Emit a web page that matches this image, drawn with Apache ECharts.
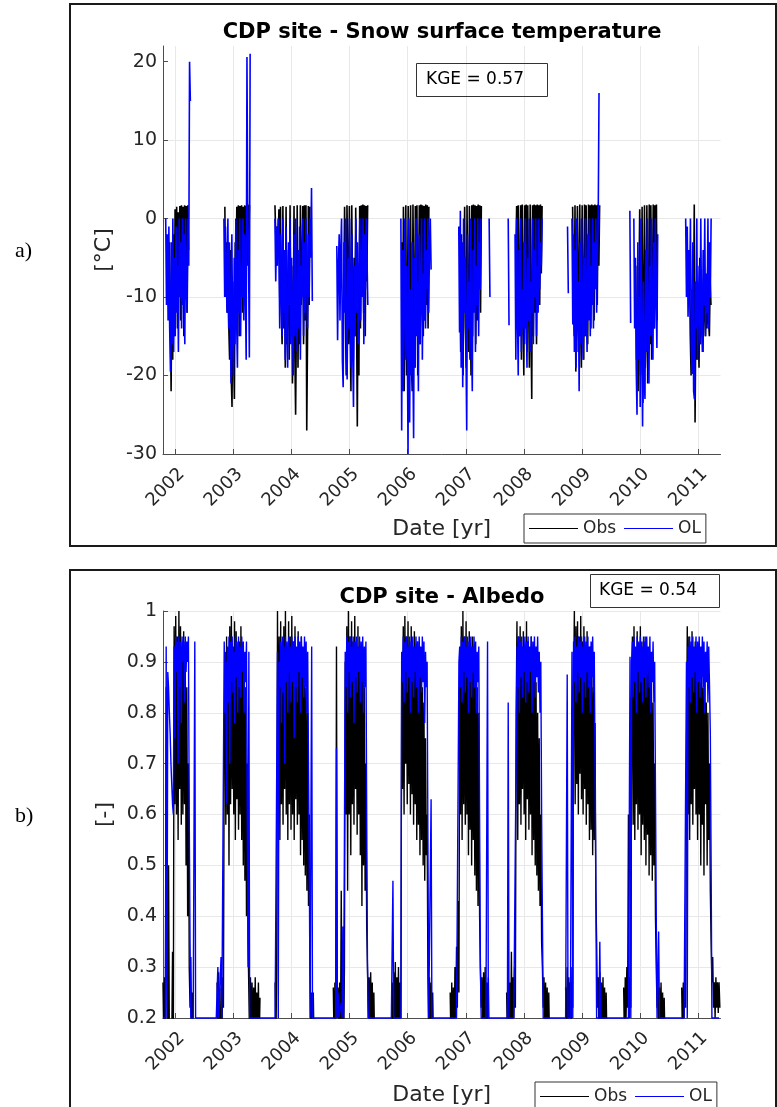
<!DOCTYPE html>
<html>
<head>
<meta charset="utf-8">
<title>CDP site</title>
<script src="https://cdn.jsdelivr.net/npm/echarts@6/dist/echarts.min.js"></script>
<style>
  html, body { margin: 0; padding: 0; background: #fff; }
  #chart { width: 777px; height: 1107px; }
</style>
</head>
<body>
<div id="chart"></div>
<script>
// ---- data (5-day steps inside each season) ----
const STEP_DAYS = 5;
const yearLabels = [2002, 2003, 2004, 2005, 2006, 2007, 2008, 2009, 2010, 2011];
const tempTicks = [-30, -20, -10, 0, 10, 20];

// snow surface temperature, observations
const tempObsStart = ['2001-11-25', '2002-11-08', '2003-09-19', '2004-11-25', '2005-11-25',
  '2006-11-25', '2007-11-12', '2008-11-03', '2009-12-05', '2010-11-08'];
const tempObs = [
  [-3, -12, -22, -6, -18, -2, -15, 1.2, -10, 1.5, -14, 0.8, -8, 1.6, -13, 1.7, -6, 1.5, -15, 1.7, -5, 1.6, -12, 1.7, -4],
  [1.5, -10, -3, -12, -6, -14, -18, -4, -20, -24, -8, -17, -23, -3, -12, 1.5, -10, 1.7, -15, 1.6, -8, 1.7, -12, 1.5, -5, 1.7, -11, 1.6, -6, 1.8, -4, 1.7],
  [1.7, -2, -6, -1, -3, 1.2, -10, 1.5, -12, -16, 1.6, -14, -5, -19, 1.5, -16, -12, -4, -18, 1.7, -15, -6, -21, -14, 1.6, -17, -25, -13, 1.7, -19, -5, -16, 1.7, -11, -7, 1.6, -16, 1.7, -13, 1.7, -27, -15, 1.6, -11, 1.5],
  [-8, 1.5, -12, -20, 1.7, -6, -16, 1.6, -14, -22, 1.7, -9, -18, -5, -15, 1.4, -12, -26.5, -8, -20, 1.6, -14, 1.7, -10, 1.8, -12, 1.7, -15, 1.6, -8, 1.7],
  [-3, -17, 1.5, -22, -8, 1.7, -20, -12, 1.6, -21, -5, 1.7, -18, -22, 1.8, -10, -19, 1.6, -14, 1.7, -20, -8, 1.7, -16, 1.8, -12, 1.7, -15, 1.6, -10, 1.8, -11, 1.7, -14, 1.5],
  [-8, -17, -2, -15, -20, -6, 1.5, -14, -19, 1.7, -12, -17, 1.6, -10, -20, 1.7, -15, 1.8, -11, 1.7, -16, 1.6, -13, 1.8, -9, 1.7, -12, 1.6],
  [-5, 1.6, -12, 1.7, -15, -8, 1.7, -18, 1.8, -11, -20, 1.7, -14, 1.8, -17, 1.7, -10, -19, 1.8, -13, -23, 1.7, -15, 1.8, -12, 1.7, -16, 1.8, -9, 1.7, -11, 1.8, -7, 1.6],
  [1.5, -9, -15, 1.7, -19.5, -12, 1.6, -17, -8, 1.8, -14, -19, 1.7, -11, -18, 1.8, -15, 1.7, -12, -16, 1.8, -10, 1.7, -14, 1.8, -9, 1.7, -13, 1.8, -8, 1.7, -11, 1.8, -6, 1.7],
  [-6, -18, -12, -22, -8, 1.2, -20, -15, 1.5, -23.5, -10, 1.7, -19, -14, 1.7, -21, -12, 1.8, -16, 1.7, -18, -9, 1.8, -14, 1.7, -11, 1.8, -13],
  [-6, -15, -20, -9, -17, -12, 1.8, -26, -12, -18, -8, -14, -19, -5, -16, -10, -13, -17, -4, -12, -15, -9, -14, -6, -13, -15, -8, -11]
];

// snow surface temperature, open loop run
const tempOlStart = ['2001-11-01', '2002-11-02', '2003-09-19', '2004-10-12', '2005-11-19', '2006-11-18',
  '2007-05-28', '2007-09-25', '2007-11-07', '2008-10-02', '2008-10-30', '2009-10-29', '2009-11-23', '2010-10-15'];
const tempOl = [
  [0, -11, -2, -13, -1, -14, -19.5, -3, -16, 0, -17, -5, -15, -1, -12, -6, -17, 0, -10, -3, -14, 0, -11, -2, -16, 0, -9, -12, 0, -6, 20, 15],
  [0, -10, -1, -8, -12, 0, -14, -3, -11, -21, -2, -15, -20, -5, -16, 0, -13, -19, -4, -12, 0, -15, -6, -10, 0, -13, -2, -9, -18, 20.6, 0, -5, -17.7, 21],
  [0, -8, -1, -6, 0, -3, -14, -2, -9, -15, 0, -12, -4, -18, -1, -14, -19, -3, -11, 0, -16, -5, -13, -20, -2, -15, 0, -12, -17, -4, -14, -1, -18, -6, -10, 0, -15, -3, -12, 0, -8, -14, -2, -10, 0, -5, 3.9, -10.5],
  [-3.5, -15.5, -6, -2, -13, -4, 0, -18, -21.5, -3, -12, 0, -16, -20.5, -5, -14, 0, -11, -19, -2, -17, -24, -6, -15, 0, -12, -3, -16, -8, 0, -13, -4, -10, 0, -16, -2, -9, 0, -5, -11],
  [0, -27, -4, -22, -10, 0, -18, -6, -14, -30, 0, -26, -9, -20, -3, -17, -28, -5, -19, 0, -15, -8, -22, -2, -16, -10, 0, -18, -7, -13, 0, -14, -4, -9, 0, -12, -3, 0, -6.5],
  [-1, -14.5, 1, -19, -3, -21.5, 0, -12, -5, -16, -27, -2, -14, -8, -18, 0, -15, -22, -4, -12, 0, -17, -6, -11, 0, -15, -3, -9, 0],
  [0, -10],
  [0, -13.6],
  [-2, -18, 0, -12, -20, -4, -15, 0, -17, -9, -14, -3, -16, 0, -11, -19, -5, -13, 0, -17, -8, -12, 0, -16, -4, -10, 0, -15, -6, -12, 0, -9, -3, -6, 0],
  [-1, -9.5],
  [0, -13.5, -2, -17, -4, -19, 0, -14, -8, -22, -3, -16, 0, -12, -18, -5, -15, 0, -11, -17, -2, -13, 0, -15, -6, -11, 0, -14, -3, -9, 0, -12, -5, 0, 16],
  [1, -13.3],
  [0, -14, -5, -19, -25, -3, -18, -10, -24, 0, -16, -26.5, -8, -20, -23, -4, -17, 0, -13, -21, -6, -15, 0, -12, -18, -3, -14, 0, -10, -16.5, -2],
  [0, -10, -1, -12.5, -4, -9, 0, -16, -19.8, -3, -22, -23, -8, -14, 0, -18, -11, -6, -16, 0, -13, -17, -4, -11, 0, -15, -7, -12, 0, -14, -3, -10, 0]
];

// albedo, observations (values under 0.2 fall below the axis)
const albObsStart = ['2001-10-15', '2002-09-20', '2003-09-20', '2004-09-20', '2005-09-20',
  '2006-09-25', '2007-09-15', '2008-09-20', '2009-09-20', '2010-09-20'];
const albObs = [
  [0.27, 0.15, 0.28, 0.15, 0.85, 0.48, 0.15, 0.5, 0.15, 0.15, 0.15, 0.15, 0.33, 0.15, 0.97, 0.62, 0.99, 0.6, 0.95, 0.55, 1.0, 0.65, 0.97, 0.58, 0.93, 0.6, 0.96, 0.62, 0.9, 0.5, 0.85, 0.4, 0.7, 0.3, 0.22, 0.32, 0.15, 0.25, 0.15],
  [0.27, 0.15, 0.29, 0.2, 0.15, 0.26, 0.15, 0.28, 0.22, 0.75, 0.92, 0.58, 0.95, 0.6, 0.88, 0.5, 0.97, 0.62, 0.99, 0.65, 0.93, 0.6, 0.98, 0.55, 0.96, 0.63, 0.9, 0.57, 0.94, 0.6, 0.97, 0.55, 0.9, 0.5, 0.88, 0.47, 0.85, 0.4, 0.7, 0.35, 0.25, 0.15, 0.28, 0.15, 0.27, 0.15, 0.26, 0.15, 0.28, 0.15, 0.25, 0.15, 0.27, 0.15, 0.24],
  [0.27, 0.15, 0.3, 1.0, 0.6, 0.95, 0.55, 0.98, 0.62, 0.93, 0.58, 0.97, 0.65, 1.0, 0.6, 0.92, 0.55, 0.98, 0.62, 0.95, 0.57, 0.99, 0.6, 0.94, 0.55, 0.97, 0.63, 0.92, 0.58, 0.96, 0.6, 0.9, 0.52, 0.95, 0.55, 0.9, 0.5, 0.88, 0.48, 0.85, 0.45, 0.8, 0.42, 0.6, 0.3, 0.15, 0.25, 0.15, 0.25, 0.15],
  [0.26, 0.15, 0.27, 0.15, 0.93, 0.2, 0.26, 0.15, 0.27, 0.15, 0.45, 0.15, 0.26, 0.15, 0.3, 0.9, 0.6, 0.97, 0.45, 1.0, 0.6, 0.95, 0.52, 0.98, 0.62, 0.94, 0.58, 0.99, 0.65, 0.92, 0.56, 0.97, 0.6, 0.93, 0.52, 0.9, 0.42, 0.88, 0.5, 0.85, 0.45, 0.7, 0.38, 0.3, 0.2, 0.28, 0.15, 0.29, 0.15, 0.27, 0.15, 0.25, 0.15],
  [0.15, 0.27, 0.15, 0.29, 0.15, 0.31, 0.15, 0.28, 0.2, 0.3, 0.15, 0.27, 0.2, 0.88, 0.65, 0.97, 0.6, 0.99, 0.7, 0.95, 0.62, 0.98, 0.66, 0.93, 0.6, 0.97, 0.64, 0.92, 0.58, 0.96, 0.62, 0.9, 0.55, 0.94, 0.58, 0.88, 0.52, 0.91, 0.55, 0.85, 0.5, 0.82, 0.47, 0.75, 0.52, 0.6, 0.28, 0.15, 0.28, 0.15, 0.27, 0.15, 0.25, 0.15],
  [0.25, 0.15, 0.27, 0.15, 0.26, 0.15, 0.3, 0.2, 0.34, 0.22, 0.43, 0.25, 0.9, 0.6, 0.97, 0.55, 1.0, 0.62, 0.95, 0.58, 0.98, 0.6, 0.93, 0.52, 0.96, 0.57, 0.92, 0.5, 0.95, 0.55, 0.88, 0.48, 0.9, 0.45, 0.85, 0.42, 0.8, 0.4, 0.3, 0.22, 0.28, 0.15, 0.29, 0.15, 0.3, 0.15, 0.27, 0.15, 0.28, 0.15],
  [0.25, 0.15, 0.3, 0.15, 0.27, 0.15, 0.33, 0.15, 0.28, 0.2, 0.3, 0.22, 0.8, 0.98, 0.55, 0.95, 0.62, 0.97, 0.58, 0.93, 0.65, 0.96, 0.6, 0.92, 0.55, 0.98, 0.63, 0.94, 0.57, 0.9, 0.6, 0.95, 0.52, 0.91, 0.55, 0.88, 0.5, 0.86, 0.48, 0.8, 0.45, 0.75, 0.42, 0.6, 0.35, 0.3, 0.22, 0.28, 0.15, 0.27, 0.15, 0.26, 0.15, 0.25, 0.15],
  [0.26, 0.15, 0.3, 0.15, 0.28, 0.2, 0.27, 0.15, 0.3, 0.22, 0.85, 1.0, 0.62, 0.97, 0.66, 0.98, 0.6, 0.95, 0.68, 0.99, 0.63, 0.94, 0.6, 0.97, 0.65, 0.92, 0.58, 0.96, 0.62, 0.9, 0.55, 0.93, 0.57, 0.88, 0.52, 0.85, 0.55, 0.78, 0.45, 0.35, 0.22, 0.28, 0.15, 0.29, 0.15, 0.27, 0.15, 0.28, 0.15, 0.26, 0.15, 0.25, 0.15],
  [0.26, 0.15, 0.28, 0.2, 0.3, 0.22, 0.6, 0.2, 0.28, 0.22, 0.75, 0.95, 0.58, 0.97, 0.55, 0.92, 0.62, 0.96, 0.57, 0.93, 0.6, 0.97, 0.52, 0.94, 0.58, 0.9, 0.55, 0.95, 0.5, 0.91, 0.56, 0.88, 0.48, 0.9, 0.52, 0.86, 0.47, 0.82, 0.5, 0.7, 0.4, 0.3, 0.22, 0.27, 0.15, 0.26, 0.15, 0.27, 0.15, 0.25, 0.15, 0.24, 0.15],
  [0.26, 0.15, 0.27, 0.2, 0.3, 0.22, 0.7, 0.97, 0.6, 0.95, 0.55, 0.93, 0.62, 0.96, 0.58, 0.9, 0.65, 0.94, 0.6, 0.88, 0.55, 0.92, 0.6, 0.86, 0.5, 0.9, 0.58, 0.85, 0.48, 0.88, 0.62, 0.82, 0.5, 0.8, 0.55, 0.7, 0.45, 0.35, 0.27, 0.32, 0.22, 0.27, 0.2, 0.28, 0.22, 0.27, 0.21, 0.27, 0.22]
];

// albedo, open loop run (0.2 = snow-free ground, drawn along the axis)
const albOlStart = ['2001-10-15', '2002-09-15', '2003-09-20', '2004-09-20', '2005-09-20',
  '2006-09-20', '2007-09-20', '2008-09-20', '2009-09-20', '2010-09-20'];
const albOl = [
  [0.2, 0.2, 0.2, 0.2, 0.93, 0.2, 0.88, 0.85, 0.8, 0.76, 0.7, 0.66, 0.62, 0.6, 0.93, 0.75, 0.95, 0.88, 0.94, 0.7, 0.95, 0.85, 0.94, 0.78, 0.95, 0.9, 0.94, 0.82, 0.95, 0.88, 0.94, 0.9, 0.95, 0.6, 0.35, 0.2, 0.2, 0.2, 0.2, 0.2, 0.94, 0.2],
  [0.2, 0.2, 0.3, 0.2, 0.2, 0.2, 0.32, 0.2, 0.2, 0.2, 0.94, 0.8, 0.9, 0.62, 0.93, 0.82, 0.95, 0.7, 0.94, 0.86, 0.95, 0.84, 0.92, 0.78, 0.95, 0.87, 0.94, 0.8, 0.95, 0.85, 0.93, 0.83, 0.95, 0.88, 0.94, 0.8, 0.92, 0.86, 0.94, 0.6, 0.3, 0.92, 0.2, 0.2],
  [0.2, 0.2, 0.2, 0.92, 0.2, 0.9, 0.85, 0.94, 0.78, 0.95, 0.84, 0.93, 0.7, 0.95, 0.86, 0.94, 0.8, 0.95, 0.88, 0.93, 0.82, 0.95, 0.86, 0.94, 0.75, 0.95, 0.85, 0.93, 0.82, 0.95, 0.88, 0.94, 0.8, 0.95, 0.87, 0.93, 0.83, 0.95, 0.85, 0.94, 0.8, 0.92, 0.7, 0.5, 0.2, 0.2, 0.93, 0.2],
  [0.2, 0.2, 0.2, 0.2, 0.73, 0.2, 0.25, 0.2, 0.2, 0.2, 0.23, 0.2, 0.38, 0.2, 0.2, 0.92, 0.85, 0.95, 0.8, 0.94, 0.88, 0.95, 0.83, 0.93, 0.86, 0.95, 0.78, 0.94, 0.87, 0.95, 0.84, 0.93, 0.88, 0.95, 0.82, 0.94, 0.86, 0.95, 0.8, 0.93, 0.85, 0.94, 0.6, 0.3, 0.2],
  [0.2, 0.2, 0.47, 0.2, 0.2, 0.2, 0.2, 0.2, 0.2, 0.2, 0.2, 0.2, 0.2, 0.92, 0.86, 0.95, 0.82, 0.94, 0.88, 0.95, 0.84, 0.93, 0.87, 0.95, 0.8, 0.94, 0.86, 0.95, 0.83, 0.93, 0.88, 0.95, 0.85, 0.94, 0.8, 0.95, 0.87, 0.93, 0.84, 0.95, 0.86, 0.94, 0.78, 0.92, 0.85, 0.9, 0.55, 0.2, 0.2, 0.2, 0.63, 0.2],
  [0.2, 0.2, 0.2, 0.2, 0.2, 0.2, 0.2, 0.2, 0.2, 0.2, 0.2, 0.2, 0.9, 0.93, 0.85, 0.95, 0.82, 0.94, 0.88, 0.95, 0.84, 0.93, 0.87, 0.95, 0.8, 0.94, 0.86, 0.95, 0.83, 0.93, 0.88, 0.95, 0.85, 0.94, 0.8, 0.92, 0.86, 0.93, 0.6, 0.3, 0.2, 0.2, 0.2, 0.2, 0.2, 0.2, 0.2, 0.2, 0.94, 0.2],
  [0.2, 0.82, 0.2, 0.2, 0.2, 0.2, 0.2, 0.2, 0.2, 0.2, 0.2, 0.72, 0.93, 0.85, 0.95, 0.8, 0.94, 0.87, 0.95, 0.83, 0.93, 0.88, 0.95, 0.82, 0.94, 0.86, 0.95, 0.84, 0.93, 0.88, 0.95, 0.8, 0.94, 0.86, 0.95, 0.83, 0.93, 0.87, 0.95, 0.84, 0.92, 0.8, 0.9, 0.6, 0.4, 0.2],
  [0.2, 0.2, 0.875, 0.2, 0.2, 0.2, 0.2, 0.2, 0.92, 0.2, 0.94, 0.86, 0.95, 0.82, 0.93, 0.88, 0.95, 0.84, 0.94, 0.87, 0.95, 0.8, 0.93, 0.86, 0.95, 0.83, 0.94, 0.88, 0.95, 0.85, 0.93, 0.8, 0.94, 0.87, 0.95, 0.84, 0.92, 0.7, 0.45, 0.2, 0.2, 0.2, 0.2, 0.35, 0.2],
  [0.2, 0.2, 0.2, 0.2, 0.2, 0.2, 0.2, 0.2, 0.91, 0.2, 0.9, 0.94, 0.83, 0.95, 0.86, 0.93, 0.8, 0.95, 0.88, 0.94, 0.84, 0.95, 0.86, 0.93, 0.82, 0.95, 0.87, 0.94, 0.83, 0.95, 0.88, 0.93, 0.85, 0.95, 0.8, 0.92, 0.86, 0.94, 0.82, 0.9, 0.65, 0.4, 0.2, 0.2, 0.37, 0.2],
  [0.2, 0.2, 0.2, 0.2, 0.2, 0.2, 0.9, 0.2, 0.93, 0.85, 0.95, 0.82, 0.94, 0.87, 0.95, 0.84, 0.93, 0.88, 0.95, 0.8, 0.94, 0.86, 0.95, 0.83, 0.93, 0.87, 0.95, 0.85, 0.94, 0.8, 0.92, 0.86, 0.94, 0.82, 0.93, 0.85, 0.76, 0.5, 0.2, 0.2, 0.2, 0.2, 0.2, 0.2, 0.2, 0.2, 0.2, 0.2]
];

// ---- helpers ----
const DAY = 86400000;
const axisStart = Date.UTC(2001, 9, 15);
const axisEnd = Date.UTC(2011, 4, 22);
const yearTicks = yearLabels.map(y => Date.UTC(y, 0, 1));

// turn season arrays into [time, value] pairs; a null closes each season when gaps are wanted
function seasonPoints(starts, seasons, gaps) {
  const out = [];
  seasons.forEach((vals, k) => {
    const t0 = Date.parse(starts[k] + 'T00:00:00Z');
    vals.forEach((v, i) => out.push([t0 + i * STEP_DAYS * DAY, v]));
    if (gaps) out.push([t0 + vals.length * STEP_DAYS * DAY, null]);
  });
  return out;
}

const axisColor = '#4d4d4d';
const textColor = '#262626';
const gridColor = '#e8e8e8';

// time runs on a plain value axis (ms), with ticks on 1 January of each year
function makeXAxis(gridIndex, nameGap) {
  return {
    type: 'value',
    gridIndex: gridIndex,
    min: axisStart,
    max: axisEnd,
    axisLine: { show: true, onZero: false, lineStyle: { color: axisColor } },
    axisTick: { show: true, inside: true, length: 5, customValues: yearTicks, lineStyle: { color: axisColor } },
    axisLabel: {
      customValues: yearTicks,
      interval: 0,
      rotate: 45,
      verticalAlign: 'top',
      margin: 11,
      fontSize: 18,
      color: textColor,
      formatter: v => String(new Date(v).getUTCFullYear())
    },
    splitLine: { show: true, lineStyle: { color: gridColor } },
    name: 'Date [yr]',
    nameLocation: 'middle',
    nameGap: nameGap,
    nameTextStyle: { fontSize: 22, color: textColor }
  };
}

function lineSeries(name, xi, data, color, clip, width) {
  return {
    name: name,
    type: 'line',
    xAxisIndex: xi,
    yAxisIndex: xi,
    data: data,
    symbol: 'none',
    showSymbol: false,
    clip: clip,
    silent: true,
    animation: false,
    emphasis: { disabled: true },
    itemStyle: { color: color },
    lineStyle: { color: color, width: width, join: 'bevel' }
  };
}

const legendBase = {
  data: ['Obs', 'OL'], icon: 'rect', itemWidth: 49, itemHeight: 1, itemGap: 8,
  padding: [6, 5], borderColor: '#333', borderWidth: 1, backgroundColor: '#fff',
  selectedMode: false, textStyle: { fontSize: 17, color: textColor }
};

const chart = echarts.init(document.getElementById('chart'));

chart.setOption({
  backgroundColor: '#fff',
  animation: false,
  textStyle: { fontFamily: 'DejaVu Sans' },
  title: [
    {
      text: 'CDP site - Snow surface temperature', left: 442, top: 22, textAlign: 'center', padding: 0,
      textStyle: { fontSize: 21, fontWeight: 'bold', color: '#000', lineHeight: 22 }
    },
    {
      text: 'KGE = 0.57', left: 416, top: 63, padding: [7, 24, 7, 10],
      borderColor: '#333', borderWidth: 1,
      textStyle: { fontSize: 17, fontWeight: 'normal', color: '#000', lineHeight: 20 }
    },
    {
      text: 'CDP site - Albedo', left: 442, top: 587, textAlign: 'center', padding: 0,
      textStyle: { fontSize: 21, fontWeight: 'bold', color: '#000', lineHeight: 22 }
    },
    {
      text: 'KGE = 0.54', left: 590, top: 574, padding: [7, 23, 7, 9],
      borderColor: '#333', borderWidth: 1,
      textStyle: { fontSize: 17, fontWeight: 'normal', color: '#000', lineHeight: 20 }
    }
  ],
  legend: [
    Object.assign({}, legendBase, { left: 524, top: 514 }),
    Object.assign({}, legendBase, { left: 535, top: 1082 })
  ],
  grid: [
    { left: 163, top: 46, width: 557.5, height: 408 },
    { left: 163, top: 611, width: 557.5, height: 408.5 }
  ],
  xAxis: [makeXAxis(0, 64), makeXAxis(1, 66)],
  yAxis: [
    {
      type: 'value', gridIndex: 0, min: -30, max: 22, interval: 10,
      axisLine: { show: true, lineStyle: { color: axisColor } },
      axisTick: { show: true, inside: true, length: 5, customValues: tempTicks, lineStyle: { color: axisColor } },
      axisLabel: { customValues: tempTicks, fontSize: 19, color: textColor, margin: 6 },
      splitLine: { show: true, showMaxLine: false, lineStyle: { color: gridColor } },
      name: '[°C]', nameLocation: 'middle', nameRotate: 90, nameGap: 46,
      nameTextStyle: { fontSize: 22, color: textColor }
    },
    {
      type: 'value', gridIndex: 1, min: 0.2, max: 1, interval: 0.1,
      axisLine: { show: true, lineStyle: { color: axisColor } },
      axisTick: { show: true, inside: true, length: 5, lineStyle: { color: axisColor } },
      axisLabel: { fontSize: 19, color: textColor, margin: 6 },
      splitLine: { show: true, lineStyle: { color: gridColor } },
      name: '[-]', nameLocation: 'middle', nameRotate: 90, nameGap: 46,
      nameTextStyle: { fontSize: 22, color: textColor }
    }
  ],
  graphic: [
    { type: 'rect', silent: true, shape: { x: 70, y: 4, width: 706, height: 542 }, style: { fill: 'none', stroke: '#1a1a1a', lineWidth: 2 } },
    { type: 'rect', silent: true, shape: { x: 70, y: 570, width: 706, height: 560 }, style: { fill: 'none', stroke: '#1a1a1a', lineWidth: 2 } },
    { type: 'text', left: 15, top: 240, style: { text: 'a)', font: '22px "Liberation Serif"', fill: '#000' } },
    { type: 'text', left: 15, top: 805, style: { text: 'b)', font: '22px "Liberation Serif"', fill: '#000' } }
  ],
  series: [
    lineSeries('Obs', 0, seasonPoints(tempObsStart, tempObs, true), '#000000', true, 1.6),
    lineSeries('OL', 0, seasonPoints(tempOlStart, tempOl, true), '#0000ff', true, 1.6),
    lineSeries('Obs', 1, seasonPoints(albObsStart, albObs, true), '#000000', true, 1.4),
    lineSeries('OL', 1, seasonPoints(albOlStart, albOl, false), '#0000ff', false, 1.4)
  ]
});
</script>
</body>
</html>
